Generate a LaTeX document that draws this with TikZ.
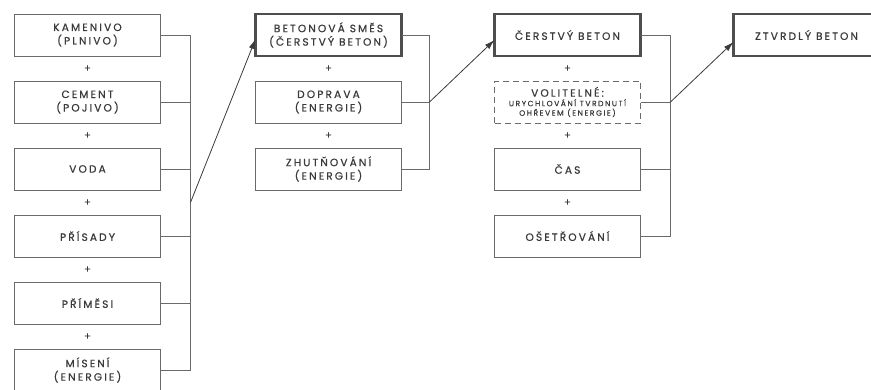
\documentclass[tikz,border=0pt]{standalone}
\usepackage{fontspec}
\setmainfont{Poppins}[LetterSpace=20, FakeBold=0.6]
\usetikzlibrary{arrows.meta, positioning, calc}
\definecolor{ink}{HTML}{3A3A3A}
\definecolor{rule}{HTML}{6A6A6A}

\begin{document}
\begin{tikzpicture}[x=1pt, y=-1pt,
  node distance=0pt,
  part/.style={draw=rule, line width=0.8pt, outer sep=0pt, minimum width=146pt, minimum height=42pt, inner sep=2pt, align=center, text=ink, font=\fontsize{10.6}{13.5}\selectfont},
  result/.style={part, draw=ink!90, line width=2.2pt},
  option/.style={part, dash pattern=on 6pt off 4pt},
  plus/.style={minimum height=24.6pt, inner sep=0pt, text=ink, font=\fontsize{10}{10}\selectfont},
  link/.style={draw=rule, line width=0.8pt},
  arrow/.style={-{Latex[length=10pt,width=6pt]}, line width=0.8pt, color=ink}
]
  \clip (0,0) rectangle (871,390);

  \node[part] (kam) at (87.5,35) {KAMENIVO\\(PLNIVO)};
  \node[plus, below=of kam] (p1) {+};
  \node[part, below=of p1] (cem) {CEMENT\\(POJIVO)};
  \node[plus, below=of cem] (p2) {+};
  \node[part, below=of p2] (voda) {VODA};
  \node[plus, below=of voda] (p3) {+};
  \node[part, below=of p3] (pris) {PŘÍSADY};
  \node[plus, below=of pris] (p4) {+};
  \node[part, below=of p4] (prim) {PŘÍMĚSI};
  \node[plus, below=of prim] (p5) {+};
  \node[part, below=of p5] (mis) {MÍSENÍ\\(ENERGIE)};

  \node[result] (smes) at (328.5,35) {BETONOVÁ SMĚS\\(ČERSTVÝ BETON)};
  \node[plus, below=of smes] (q1) {+};
  \node[part, below=of q1] (dop) {DOPRAVA\\(ENERGIE)};
  \node[plus, below=of dop] (q2) {+};
  \node[part, below=of q2] (zhut) {ZHUTŇOVÁNÍ\\(ENERGIE)};

  \node[result] (cer) at (567.5,35) {ČERSTVÝ BETON};
  \node[plus, below=of cer] (r1) {+};
  \node[option, below=of r1, font=\fontsize{7.6}{9.5}\selectfont] (vol) {\fontsize{10.6}{12}\selectfont VOLITELNÉ:\\
    URYCHLOVÁNÍ TVRDNUTÍ\\OHŘEVEM (ENERGIE)};
  \node[plus, below=of vol] (r2) {+};
  \node[part, below=of r2] (cas) {ČAS};
  \node[plus, below=of cas] (r3) {+};
  \node[part, below=of r3] (oset) {OŠETŘOVÁNÍ};

  \node[result] (ztv) at (806.5,35) {ZTVRDLÝ BETON};

  \coordinate[right=30pt of kam.east] (bus1);
  \draw[link] (kam.east) -- (bus1) |- (mis.east);
  \foreach \n in {cem, voda, pris, prim}
    \draw[link] (\n.east) -- (\n.east -| bus1);
  \coordinate (fork1) at ($(bus1)!0.5!(mis.east -| bus1)$);
  \draw[arrow] (fork1) -- ([yshift=-4pt]smes.west);

  \coordinate[right=28pt of smes.east] (bus2);
  \draw[link] (smes.east) -- (bus2) |- (zhut.east);
  \draw[link] (dop.east) -- (dop.east -| bus2);
  \coordinate (fork2) at (dop.east -| bus2);
  \draw[arrow] (fork2) -- ([yshift=-5pt]cer.west);

  \coordinate[right=30pt of cer.east] (bus3);
  \draw[link] (cer.east) -- (bus3) |- (oset.east);
  \foreach \n in {vol, cas}
    \draw[link] (\n.east) -- (\n.east -| bus3);
  \coordinate (fork3) at (vol.east -| bus3);
  \draw[arrow] (fork3) -- ([yshift=-7pt]ztv.west);
\end{tikzpicture}
\end{document}
